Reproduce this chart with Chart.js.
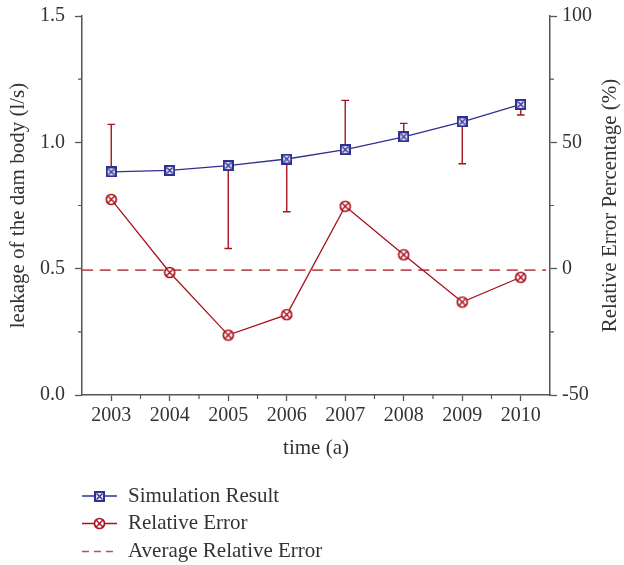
<!DOCTYPE html>
<html>
<head>
<meta charset="utf-8">
<script src="https://cdn.jsdelivr.net/npm/chart.js@4/dist/chart.umd.min.js"></script>
<style>
  html, body { margin: 0; padding: 0; background: #fff; }
  #wrap { width: 624px; height: 565px; }
</style>
</head>
<body>
<div id="wrap"><canvas id="c" width="624" height="565"></canvas></div>
<script>
// ---- data ----
const years = ['2003', '2004', '2005', '2006', '2007', '2008', '2009', '2010'];
const simulation = [0.883, 0.889, 0.908, 0.934, 0.971, 1.022, 1.081, 1.150];      // l/s
const measuredEnd = [1.071, 0.876, 0.580, 0.725, 1.166, 1.075, 0.915, 1.108];     // error bar ends, l/s
const relativeError = [27.4, -1.5, -26.3, -18.2, 24.7, 5.5, -13.2, -3.4];         // %
const averageRelativeError = [-0.6];                                              // %
const leftTicks = [0.0, 0.5, 1.0, 1.5];
const leftMinorTicks = [0.25, 0.75, 1.25];
const rightTicks = [-50, 0, 50, 100];
const rightMinorTicks = [-25, 25, 75];
const legendLabels = ['Simulation Result', 'Relative Error', 'Average Relative Error'];

// ---- styles ----
const FONT = '"Liberation Serif", "DejaVu Serif", serif';
const FONT_SIZE = 20;
const TITLE_SIZE = 21;
const TEXT = '#333333';
const AXIS = '#555555';
const BLUE = '#2e3192';
const RED = '#a8131f';
const AVG = '#c0505a';

function squareMarker(color) {
  const c = document.createElement('canvas');
  c.width = c.height = 11;
  const g = c.getContext('2d');
  g.fillStyle = color;
  g.fillRect(0, 0, 11, 11);
  g.fillStyle = '#e6e7f3';
  g.fillRect(2, 2, 7, 7);
  g.strokeStyle = color;
  g.lineWidth = 1.3;
  g.beginPath();
  g.moveTo(2.5, 2.5); g.lineTo(8.5, 8.5);
  g.moveTo(8.5, 2.5); g.lineTo(2.5, 8.5);
  g.stroke();
  return c;
}

function circleMarker(color) {
  const c = document.createElement('canvas');
  c.width = c.height = 13;
  const g = c.getContext('2d');
  g.fillStyle = '#fff';
  g.strokeStyle = color;
  g.lineWidth = 1.7;
  g.beginPath();
  g.arc(6.5, 6.5, 5, 0, Math.PI * 2);
  g.fill();
  g.stroke();
  const d = 3.4;
  g.lineWidth = 1.4;
  g.beginPath();
  g.moveTo(6.5 - d, 6.5 - d); g.lineTo(6.5 + d, 6.5 + d);
  g.moveTo(6.5 + d, 6.5 - d); g.lineTo(6.5 - d, 6.5 + d);
  g.stroke();
  return c;
}

const simMarker = squareMarker(BLUE);
const errMarker = circleMarker(RED);

function drawTicksOnAxis(ctx, scale, values, len, side) {
  ctx.beginPath();
  values.forEach(v => {
    const p = scale.getPixelForValue(v);
    if (side === 'left') { ctx.moveTo(scale.right, p); ctx.lineTo(scale.right - len, p); }
    else if (side === 'right') { ctx.moveTo(scale.left, p); ctx.lineTo(scale.left + len, p); }
  });
  ctx.stroke();
}

const extras = {
  id: 'extras',
  beforeDatasetsDraw(chart) {
    const { ctx, chartArea, scales: { x, y, y1 } } = chart;
    ctx.save();
    // average relative error
    const ya = y1.getPixelForValue(averageRelativeError[0]);
    ctx.strokeStyle = AVG;
    ctx.lineWidth = 1.8;
    ctx.setLineDash([11, 6.7]);
    ctx.beginPath();
    ctx.moveTo(chartArea.left, ya);
    ctx.lineTo(chartArea.right - 4, ya);
    ctx.stroke();
    ctx.setLineDash([]);
    // error bars from the simulated value to the observed end
    ctx.strokeStyle = RED;
    ctx.lineWidth = 1.4;
    years.forEach((_, i) => {
      const px = x.getPixelForValue(i);
      const p0 = y.getPixelForValue(simulation[i]);
      const p1 = y.getPixelForValue(measuredEnd[i]);
      ctx.beginPath();
      ctx.moveTo(px, p0); ctx.lineTo(px, p1);
      ctx.moveTo(px - 3.8, p1); ctx.lineTo(px + 3.8, p1);
      ctx.stroke();
    });
    ctx.restore();
  },
  afterDraw(chart) {
    const { ctx, chartArea, scales: { x, y, y1 } } = chart;
    ctx.save();
    // minor ticks
    ctx.strokeStyle = AXIS;
    ctx.lineWidth = 1.2;
    drawTicksOnAxis(ctx, y, leftMinorTicks, 4, 'left');
    drawTicksOnAxis(ctx, y1, rightMinorTicks, 4, 'right');
    ctx.beginPath();
    for (let i = 0; i < years.length - 1; i++) {
      const p = (x.getPixelForValue(i) + x.getPixelForValue(i + 1)) / 2;
      ctx.moveTo(p, x.top); ctx.lineTo(p, x.top + 4);
    }
    ctx.stroke();

    // right axis title, read bottom to top
    ctx.fillStyle = TEXT;
    ctx.font = `${TITLE_SIZE}px ${FONT}`;
    ctx.textAlign = 'center';
    ctx.textBaseline = 'middle';
    ctx.translate(610, (chartArea.top + chartArea.bottom) / 2);
    ctx.rotate(-Math.PI / 2);
    ctx.fillText('Relative Error Percentage (%)', 0, 0);
    ctx.setTransform(1, 0, 0, 1, 0, 0);

    // legend
    const rows = [496, 523.5, 551.5];
    const x0 = 82, x1 = 117, xm = (x0 + x1) / 2, tx = 128;
    ctx.textAlign = 'left';
    ctx.lineWidth = 1.3;
    // simulation
    ctx.strokeStyle = BLUE;
    ctx.beginPath(); ctx.moveTo(x0, rows[0]); ctx.lineTo(x1, rows[0]); ctx.stroke();
    ctx.drawImage(simMarker, Math.round(xm - simMarker.width / 2), Math.round(rows[0] - simMarker.height / 2));
    // relative error
    ctx.strokeStyle = RED;
    ctx.beginPath(); ctx.moveTo(x0, rows[1]); ctx.lineTo(x1, rows[1]); ctx.stroke();
    ctx.drawImage(errMarker, Math.round(xm - errMarker.width / 2), Math.round(rows[1] - errMarker.height / 2));
    // average
    ctx.strokeStyle = AVG;
    ctx.lineWidth = 1.6;
    ctx.setLineDash([7, 5]);
    ctx.beginPath(); ctx.moveTo(x0, rows[2]); ctx.lineTo(x1, rows[2]); ctx.stroke();
    ctx.setLineDash([]);
    legendLabels.forEach((t, i) => ctx.fillText(t, tx, rows[i]));
    ctx.restore();
  }
};

const tickFont = { family: FONT, size: FONT_SIZE };
const titleFont = { family: FONT, size: TITLE_SIZE };

function fixVertical(width) {
  return s => { s.width = width; s.paddingTop = 0; s.paddingBottom = 0; };
}

new Chart(document.getElementById('c'), {
  type: 'line',
  data: {
    labels: years,
    datasets: [
      {
        label: legendLabels[0],
        data: simulation,
        yAxisID: 'y',
        borderColor: BLUE,
        borderWidth: 1.3,
        pointStyle: simMarker,
        pointRadius: 5,
        tension: 0,
        order: 1
      },
      {
        label: legendLabels[1],
        data: relativeError,
        yAxisID: 'y1',
        borderColor: RED,
        borderWidth: 1.3,
        pointStyle: errMarker,
        pointRadius: 5,
        tension: 0,
        order: 2
      }
    ]
  },
  options: {
    responsive: false,
    devicePixelRatio: 1,
    animation: false,
    events: [],
    layout: { padding: { top: 16, left: 0, right: 0, bottom: 100 } },
    plugins: { legend: { display: false }, tooltip: { enabled: false } },
    scales: {
      x: {
        type: 'category',
        offset: true,
        grid: { drawOnChartArea: false, drawTicks: true, tickLength: 6, tickColor: AXIS, tickWidth: 1.3, color: AXIS },
        border: { display: true, color: AXIS, width: 1.5 },
        ticks: { font: tickFont, color: TEXT, padding: 3, maxRotation: 0, autoSkip: false },
        title: { display: true, text: 'time (a)', font: titleFont, color: TEXT, padding: { top: 0, bottom: 4 } },
        afterFit(s) { s.height = 70; s.paddingLeft = 0; s.paddingRight = 0; }
      },
      y: {
        position: 'left',
        min: 0, max: 1.5,
        afterBuildTicks(s) { s.ticks = leftTicks.map(v => ({ value: v })); },
        grid: { drawOnChartArea: false, drawTicks: true, tickLength: 7, tickColor: AXIS, tickWidth: 1.3 },
        border: { display: true, color: AXIS, width: 1.5 },
        ticks: { font: tickFont, color: TEXT, padding: 10, callback: v => Number(v).toFixed(1) },
        title: { display: true, text: 'leakage of the dam body (l/s)', font: titleFont, color: TEXT, padding: { top: 6, bottom: 0 } },
        afterFit: fixVertical(82)
      },
      y1: {
        position: 'right',
        min: -50, max: 100,
        afterBuildTicks(s) { s.ticks = rightTicks.map(v => ({ value: v })); },
        grid: { drawOnChartArea: false, drawTicks: true, tickLength: 7, tickColor: AXIS, tickWidth: 1.3 },
        border: { display: true, color: AXIS, width: 1.5 },
        ticks: { font: tickFont, color: TEXT, padding: 5, callback: v => String(v) },
        afterFit: fixVertical(74)
      }
    }
  },
  plugins: [extras]
});
</script>
</body>
</html>
